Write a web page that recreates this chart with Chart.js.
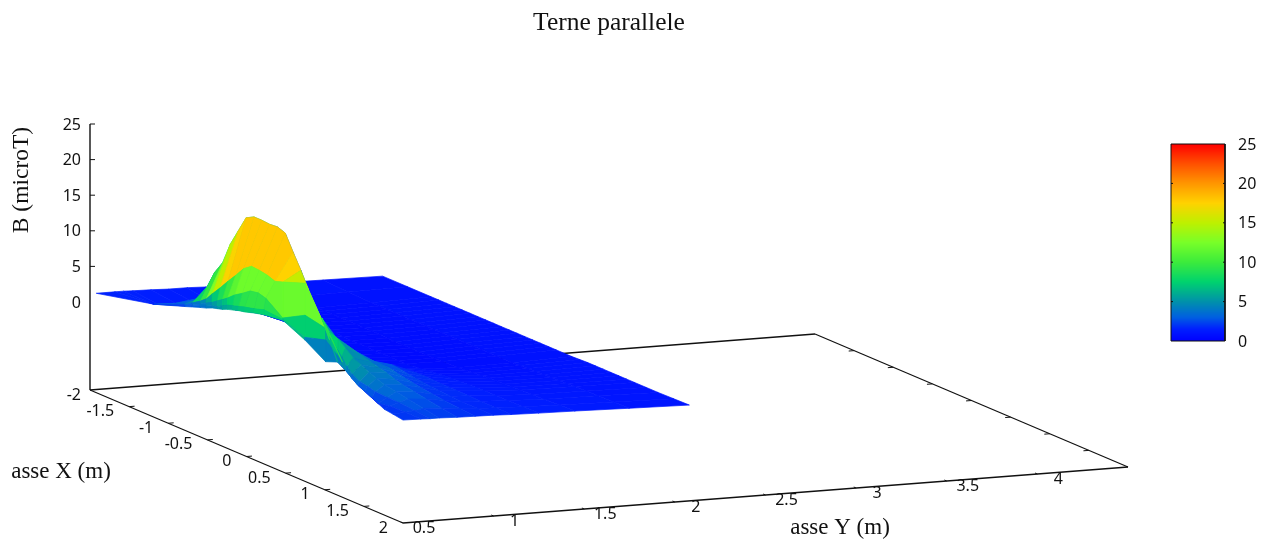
<!DOCTYPE html>
<html>
<head>
<meta charset="utf-8">
<title>Terne parallele</title>
<script src="https://cdn.jsdelivr.net/npm/chart.js@4/dist/chart.umd.min.js"></script>
<style>
  html, body { margin: 0; padding: 0; background: #fff; }
  canvas { display: block; }
</style>
</head>
<body>
<canvas id="chart" width="1267" height="542"></canvas>
<script>
// surface samples
const xGrid = [-1.92, -1.6, -1.3, -1.2, -1.1, -1.0, -0.9, -0.8, -0.7, -0.6, -0.5, -0.4, -0.3, -0.2, -0.1, 0, 0.1, 0.2, 0.3, 0.5, 0.6, 0.7, 0.8, 0.9, 1, 1.1, 1.2, 1.3, 1.45, 1.6, 1.8, 2];
const yGrid = [0.5, 0.6, 0.65, 0.7, 0.8, 0.9, 1.0, 1.1, 1.25, 1.45, 1.75, 2.08];
// first y sampled in each x column
const yFront = [0.5, 0.68, 0.72, 0.72, 0.72, 0.71, 0.7, 0.685, 0.67, 0.655, 0.64, 0.63, 0.62, 0.63, 0.64, 0.7, 0.78, 0.85, 0.9, 0.7, 0.7, 0.7, 0.68, 0.665, 0.65, 0.64, 0.635, 0.63, 0.6, 0.57, 0.53, 0.5];

const b050 = [1.6, 1.2, 2.2, 2.6, 3.0, 3.4, 3.9, 4.3, 4.7, 5.2, 5.6, 6, 6.3, 6.6, 6.8, 6.4, 3.9, 1.2, 1.5, 9, 6.4, 3.8, 3.7, 3.4, 3, 2.5, 2.1, 1.7, 1.65, 1.6, 1.95, 2.1];
const b060 = [1.6, 1.2, 2.3, 2.8, 3.2, 3.7, 4.2, 4.6, 5.2, 5.8, 6.2, 6.6, 7, 7.2, 7.5, 6.5, 4.3, 4.25, 1.5, 9, 6.4, 3.8, 3.7, 3.4, 3, 2.5, 2.1, 1.7, 1.65, 2, 2.05, 2.05];
const b065 = [1.6, 1.2, 2.4, 3, 3.5, 4.1, 4.7, 5.4, 6.1, 6.8, 7.7, 8.4, 9.2, 9.4, 9.1, 6.7, 7.4, 5.9, 1.5, 9, 6.8, 5.5, 5, 4.2, 3.6, 3, 2.8, 2.5, 2.4, 2.4, 2.2, 2];
const b070 = [1.55, 1.2, 2.5, 3.2, 3.9, 4.7, 5.9, 7.2, 8.6, 9.9, 11.3, 12.1, 12, 11.8, 11.4, 11.75, 11.9, 5.9, 1.5, 9, 7.5, 7.1, 6.2, 5.3, 4.8, 4.2, 3.8, 3.4, 3.1, 2.8, 2.4, 2];
const b080 = [1.5, 1.1, 3.2, 5.25, 7.8, 9.6, 12.7, 15, 17.3, 17.9, 17.9, 17.8, 17.9, 17.5, 15.3, 13.2, 10.9, 5.9, 1.5, 5.3, 5.2, 5.1, 4.8, 4.5, 4.2, 3.9, 3.5, 3.2, 2.9, 2.6, 2.25, 1.9];
const b090 = [1.4, 1, 2.5, 3.5, 5, 6, 7, 7, 7, 7, 7, 6, 5, 4.2, 3.5, 2.8, 2.2, 1.8, 1.5, 3, 3.2, 3.5, 3.5, 3.5, 3.2, 3, 2.8, 2.6, 2.4, 2.2, 2, 1.85];
const b100 = [1.4, 0.9, 1.2, 1.5, 2, 2.2, 2.5, 2.5, 2.5, 2.5, 2.5, 2.2, 2, 1.8, 1.6, 1.4, 1.2, 1.1, 1.1, 2, 2.4, 2.8, 2.7, 2.5, 2.3, 2.2, 2.1, 2, 1.9, 1.8, 1.8, 1.8];
const b110 = [1.3, 0.8, 0.8, 0.9, 1, 1.1, 1.2, 1.2, 1.2, 1.2, 1.2, 1.1, 1, 0.9, 0.9, 0.8, 0.8, 0.8, 0.8, 1.2, 1.5, 1.8, 1.85, 1.9, 1.85, 1.8, 1.8, 1.8, 1.75, 1.7, 1.7, 1.7];
const b125 = [1.2, 0.7, 0.7, 0.7, 0.7, 0.7, 0.7, 0.7, 0.7, 0.7, 0.7, 0.6, 0.6, 0.6, 0.6, 0.6, 0.6, 0.6, 0.6, 0.8, 1, 1.1, 1.2, 1.3, 1.35, 1.4, 1.45, 1.5, 1.5, 1.5, 1.55, 1.6];
const b145 = [1.1, 0.7, 0.6, 0.6, 0.6, 0.6, 0.6, 0.6, 0.6, 0.6, 0.6, 0.5, 0.5, 0.5, 0.5, 0.5, 0.5, 0.5, 0.5, 0.6, 0.7, 0.8, 0.9, 1, 1.05, 1.1, 1.15, 1.2, 1.25, 1.3, 1.4, 1.5];
const b175 = [1, 0.8, 0.7, 0.7, 0.7, 0.7, 0.7, 0.7, 0.7, 0.7, 0.7, 0.7, 0.7, 0.7, 0.7, 0.7, 0.7, 0.7, 0.7, 0.7, 0.75, 0.8, 0.85, 0.9, 0.95, 1, 1.05, 1.1, 1.15, 1.2, 1.25, 1.3];
const b208 = [0.9, 0.9, 0.9, 0.9, 0.9, 0.9, 0.9, 0.9, 0.9, 0.9, 0.9, 0.9, 0.9, 0.9, 0.9, 0.9, 0.9, 0.9, 0.9, 0.9, 0.95, 1, 1, 1, 1, 1, 1, 1, 1, 1, 1.05, 1.1];
const bRows = [b050, b060, b065, b070, b080, b090, b100, b110, b125, b145, b175, b208];

// tick labels
const xTicks = [-1.5, -1, -0.5, 0, 0.5, 1, 1.5, 2];
const yTicks = [0.5, 1, 1.5, 2, 2.5, 3, 3.5, 4];
const zTicks = [-2, 0, 5, 10, 15, 20, 25];
const barTicks = [0, 5, 10, 15, 20, 25];

// palette of the colour bar
const paletteAt = [0, 1.5, 3, 5, 7.5, 10, 12.5, 15, 17.5, 20, 22.5, 25];
const paletteRgb = [[0, 0, 255], [0, 30, 255], [0, 95, 225], [0, 145, 170], [0, 210, 110], [60, 235, 60], [120, 255, 40], [190, 240, 0], [255, 210, 0], [255, 150, 0], [255, 80, 0], [255, 0, 0]];

function colorFor(b) {
  let k = 0;
  while (k < paletteAt.length - 2 && b > paletteAt[k + 1]) k++;
  const t = Math.min(1, Math.max(0, (b - paletteAt[k]) / (paletteAt[k + 1] - paletteAt[k])));
  const c = paletteRgb[k].map((v, n) => Math.round(v + (paletteRgb[k + 1][n] - v) * t));
  return 'rgb(' + c.join(',') + ')';
}

// oblique view of the box, the b axis is broken between -2 and 0
function project(x, y, b) {
  const u = x + 2, v = y - 0.5;
  const lift = b < 0 ? 0 : 88 + 7.12 * b;
  return { x: 90 + 78.25 * u + 181.25 * v, y: 390 + 33.25 * u - 14 * v - lift };
}

let marks = [];

function addLine(points, width) {
  marks.push({
    data: points, showLine: true, fill: false, pointRadius: 0,
    borderColor: '#111', borderWidth: width || 1
  });
}

function addShape(points, color, edge) {
  marks.push({
    data: points.concat([points[0]]), showLine: true, fill: 'shape', pointRadius: 0,
    backgroundColor: color, borderColor: color, borderWidth: edge, tension: 0
  });
}

// box, behind the surface
addLine([project(-2, 0.5, -2), project(-2, 4.5, -2)], 1.3);
addLine([project(-2, 4.5, -2), project(2, 4.5, -2)], 1.2);
addLine([project(-2, 0.5, -2), project(2, 0.5, -2)], 1.2);
addLine([project(2, 0.5, -2), project(2, 4.5, -2)], 1.3);
xTicks.slice(0, 7).forEach(function (t) {
  addLine([project(t, 0.5, -2), project(t, 0.53, -2)]);
  addLine([project(t, 4.5, -2), project(t, 4.47, -2)]);
});
yTicks.forEach(function (t) {
  addLine([project(2, t, -2), project(1.97, t, -2)]);
});
const zAxisTop = project(-2, 0.5, 25);
addLine([project(-2, 0.5, -2), zAxisTop], 1.4);
zTicks.filter(t => t > 0).forEach(function (t) {
  const p = project(-2, 0.5, t);
  addLine([p, { x: p.x + 5, y: p.y }]);
});

// surface, far row first, low x first
function vertex(i, j) {
  return project(xGrid[i], Math.max(yGrid[j], yFront[i]), bRows[j][i]);
}
for (let j = yGrid.length - 2; j >= 0; j--) {
  for (let i = 0; i < xGrid.length - 1; i++) {
    const rear = bRows[j + 1];
    let b = Math.max(rear[i], rear[i + 1]);
    // the hot colours run on one column past the crest
    if (b >= 10 && i > 0) b = Math.max(b, rear[i - 1]);
    addShape([vertex(i, j), vertex(i + 1, j), vertex(i + 1, j + 1), vertex(i, j + 1)], colorFor(b), 0.7);
  }
}

// colour bar, one band per pixel row
const barLeft = 1171, barRight = 1225, barTop = 144, barBottom = 341;
function barY(b) { return barBottom - (barBottom - barTop) * b / 25; }
for (let n = 0; n < barBottom - barTop; n++) {
  const y0 = barBottom - n, y1 = y0 - 1;
  addShape([{ x: barLeft, y: y0 }, { x: barRight, y: y0 }, { x: barRight, y: y1 }, { x: barLeft, y: y1 }], colorFor((n + 0.5) * 25 / (barBottom - barTop)), 0);
}
addLine([{ x: barLeft, y: barTop }, { x: barRight, y: barTop }, { x: barRight, y: barBottom }, { x: barLeft, y: barBottom }, { x: barLeft, y: barTop }], 1);
barTicks.slice(1, 5).forEach(function (t) {
  addLine([{ x: barLeft, y: barY(t) }, { x: barLeft + 2, y: barY(t) }]);
  addLine([{ x: barRight - 2, y: barY(t) }, { x: barRight, y: barY(t) }]);
});

// every text of the figure
const textLayer = {
  id: 'textLayer',
  afterDraw(chart) {
    const ctx = chart.ctx;
    const sx = chart.scales.x, sy = chart.scales.y;
    function put(text, x, y, align, font) {
      ctx.font = font;
      ctx.textAlign = align;
      ctx.textBaseline = 'middle';
      ctx.fillStyle = '#111';
      ctx.fillText(text, sx.getPixelForValue(x), sy.getPixelForValue(y));
    }
    const tickFont = '16px "Noto Sans"';
    const serif = '"Liberation Serif"';
    put('Terne parallele', 609, 23, 'center', '25.5px ' + serif);
    xTicks.forEach(function (t) {
      const p = project(t, 0.5, -2);
      put(String(t), p.x - 15, p.y + 5, 'right', tickFont);
    });
    yTicks.forEach(function (t) {
      const p = project(2, t, -2);
      put(String(t), p.x + 21, p.y + 5, 'center', tickFont);
    });
    zTicks.forEach(function (t) {
      const p = project(-2, 0.5, t);
      put(String(t), 81, p.y + (t < 0 ? 5 : 1), 'right', tickFont);
    });
    barTicks.forEach(function (t) {
      put(String(t), 1238, barY(t) + 1, 'left', tickFont);
    });
    put('asse X (m)', 61, 472, 'center', '23px ' + serif);
    put('asse Y (m)', 840, 528, 'center', '23px ' + serif);
    ctx.save();
    ctx.translate(sx.getPixelForValue(22), sy.getPixelForValue(180));
    ctx.rotate(-Math.PI / 2);
    put('B (microT)', sx.getValueForPixel(sx.left), sy.getValueForPixel(sy.top), 'center', '23.5px ' + serif);
    ctx.restore();
  }
};

// chart.js paints the first dataset last
new Chart(document.getElementById('chart'), {
  type: 'scatter',
  data: { datasets: marks.reverse() },
  options: {
    responsive: false,
    animation: false,
    events: [],
    layout: { padding: 0 },
    scales: {
      x: { type: 'linear', min: 0, max: 1267, display: false },
      y: { type: 'linear', min: 0, max: 542, reverse: true, display: false }
    },
    plugins: { legend: { display: false }, tooltip: { enabled: false } }
  },
  plugins: [textLayer]
});
</script>
</body>
</html>
